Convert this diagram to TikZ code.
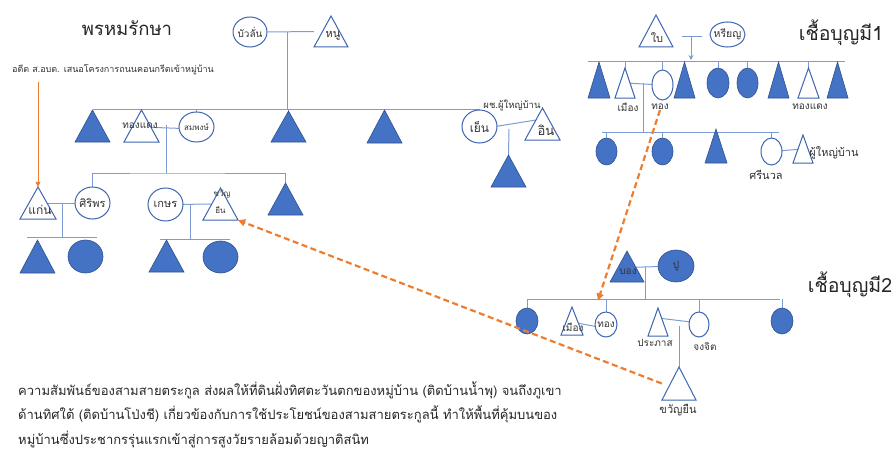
\documentclass[tikz,border=0pt]{standalone}
\usepackage{fontspec}
\newfontfamily\thai[Script=Thai]{Loma}
\usetikzlibrary{shapes.geometric,arrows.meta,backgrounds}
\definecolor{fillb}{HTML}{4472C4}
\definecolor{edgeb}{HTML}{2F528F}
\definecolor{hollb}{HTML}{3D65B0}
\definecolor{linkb}{HTML}{7C9CD6}
\definecolor{orng}{HTML}{ED7D31}
\definecolor{txt}{HTML}{333333}
\tikzset{
  ftri/.style={fill=fillb,draw=edgeb,line width=0.6},
  htri/.style={fill=white,draw=hollb,line width=1},
  fell/.style={ellipse,fill=fillb,draw=edgeb,line width=0.6,inner sep=0},
  hell/.style={ellipse,fill=white,draw=hollb,line width=1,inner sep=0},
  link/.style={draw=linkb,line width=1},
  lbl/.style={font=\thai\fontsize{#1}{#1}\selectfont,text=txt,inner sep=0},
  lbl/.default=10,
  title/.style={font=\thai\fontsize{#1}{#1}\selectfont,text=black!85,inner sep=0},
  odash/.style={draw=orng,line width=2.2,dash pattern=on 6pt off 3.5pt,-{Triangle[length=7pt,width=7pt]}},
}
% #1 style, #2 name, #3 x, #4 y, #5 w, #6 h
\newcommand\kt[6]{%
  \path[#1] ({#3-#5/2},{#4+#6/2}) -- ({#3+#5/2},{#4+#6/2}) -- ({#3},{#4-#6/2}) -- cycle;
  \node[inner sep=0,minimum width=#5,minimum height=#6] (#2) at (#3,#4) {};}
\begin{document}
\begin{tikzpicture}[x=1pt,y=-1pt]
\begin{pgfonlayer}{background}
\fill[white] (0,0) rectangle (896,452);
\end{pgfonlayer}
\useasboundingbox (0,0) rectangle (896,452);

% ---------------- left family ----------------
\node[title=18.5] (tl) at (127,28) {พรหมรักษา};
\node[lbl=9] (note) at (113,70) {อดีต ส.อบต. เสนอโครงการถนนคอนกรีตเข้าหมู่บ้าน};

\node[hell,minimum width=34,minimum height=30] (buo) at (250,32) {};
\node[lbl=10] at (250,32) {บัวลั่น};
\kt{htri}{nu}{331}{31.5}{34}{31}
\node[lbl=11] at (333,36) {หนู};
\coordinate (m1) at (287,32);

\kt{ftri}{t1}{92.5}{126}{35}{32}
\kt{htri}{thd}{141.5}{126}{35}{32}
\node[lbl=10] (thdl) at (140,126) {ทองแดง};
\node[hell,minimum width=35,minimum height=30] (smp) at (196.5,127) {};
\node[lbl=8] at (196.5,127) {สมพงษ์};
\kt{ftri}{t2}{288.5}{126.5}{35}{31}
\kt{ftri}{t3}{384.5}{126.5}{35}{33}
\node[hell,minimum width=35,minimum height=33] (yen) at (479.5,126.5) {};
\node[lbl=12] at (479.5,127) {เย็น};
\kt{htri}{in}{542.5}{124}{35}{32}
\node[lbl=13] at (546,130) {อิน};
\node[lbl=9.5] (phc) at (512,105) {ผช.ผู้ใหญ่บ้าน};
\kt{ftri}{t4}{508.5}{171}{35}{32}

\kt{htri}{kaen}{38}{203}{36}{32}
\node[lbl=12] at (40,210) {แก่น};
\node[hell,minimum width=35,minimum height=32] (sir) at (92.5,203) {};
\node[lbl=11] at (92.5,203) {ศิริพร};
\kt{ftri}{t5}{37.5}{256.5}{35}{33}
\node[fell,minimum width=35,minimum height=33] (c1) at (85.5,256.5) {};
\node[hell,minimum width=35,minimum height=33] (kes) at (165.5,204.5) {};
\node[lbl=11] at (165.5,204.5) {เกษร};
\kt{htri}{kwy}{220.5}{204}{35}{32}
\node[lbl=8] at (222,194) {ขวัญ};
\node[lbl=8] at (220.5,210) {ยืน};
\kt{ftri}{t6}{166.5}{256}{35}{32}
\node[fell,minimum width=35,minimum height=32] (c2) at (220.5,257) {};
\kt{ftri}{t7}{285.5}{199}{35}{32}

% ---------------- right top family ----------------
\node[title=19.5] (tr1) at (841,33) {เชื้อบุญมี1};
\kt{htri}{bai}{656}{31}{34}{32}
\node[lbl=11] at (657,38) {ใบ};
\node[hell,minimum width=35,minimum height=25] (ry) at (727.5,34.5) {};
\node[lbl=10.5] at (727.5,34.5) {หรียญ};
\coordinate (r1) at (682,37);
\coordinate (r2) at (702,37);
\coordinate (r3) at (691,37);
\coordinate (r4) at (691,60);

\kt{ftri}{a1}{599}{80}{22}{36}
\kt{htri}{a2}{625}{83}{20}{30}
\node[hell,minimum width=21,minimum height=30] (a3) at (662.5,85) {};
\kt{ftri}{a4}{684.5}{80}{21}{36}
\node[fell,minimum width=22,minimum height=30] (a5) at (718,83) {};
\node[fell,minimum width=21,minimum height=30] (a6) at (747.5,83) {};
\kt{ftri}{a7}{778.5}{80}{21}{36}
\kt{htri}{a8}{808.5}{83}{21}{30}
\kt{ftri}{a9}{837.5}{80}{21}{36}
\node[lbl=10] (la2) at (628,107) {เมือง};
\node[lbl=10] (la3) at (660,107) {ทอง};
\node[lbl=10] (la8) at (810,107) {ทองแดง};

\node[fell,minimum width=21,minimum height=27] (b1) at (606.5,151.5) {};
\node[fell,minimum width=21,minimum height=27] (b2) at (662.5,151.5) {};
\kt{ftri}{b3}{716}{146}{22}{34}
\node[hell,minimum width=21,minimum height=27] (b4) at (771.5,151.5) {};
\kt{htri}{b5}{803}{149}{20}{28}
\node[lbl=11] at (834,153) {ผู้ใหญ่บ้าน};
\node[lbl=11] at (766,175) {ศรีนวล};

% ---------------- right middle family ----------------
\node[title=19.5] (tr2) at (850,285) {เชื้อบุญมี2};
\kt{ftri}{bong}{627}{266.5}{34}{31}
\node[lbl=10,text=black!80] at (628,272) {บอง};
\node[fell,minimum width=36,minimum height=32] (pu) at (676,266) {};
\node[lbl=10,text=black!80] at (676,266) {ปู};

\node[fell,minimum width=22,minimum height=26] (d1) at (527,321) {};
\kt{htri}{d2}{572}{321}{22}{28}
\node[lbl=10] at (573,327) {เมือง};
\node[hell,minimum width=22,minimum height=25] (d3) at (606,324.5) {};
\node[lbl=10] at (606,325) {ทอง};
\kt{htri}{d4}{658}{322}{20}{28}
\node[lbl=10] at (655,343) {ประภาส};
\node[hell,minimum width=20,minimum height=25] (d5) at (699,324.5) {};
\node[lbl=10] at (705,347) {จงจิต};
\node[fell,minimum width=22,minimum height=26] (d6) at (782,321) {};
\kt{htri}{kwy2}{679}{383.5}{34}{33}
\node[lbl=11] (lk2) at (678,410) {ขวัญยืน};

% ---------------- bottom text ----------------
\node[anchor=base west,align=left,inner sep=0,font=\thai\fontsize{13}{24.5}\selectfont,text=black!85] (body) at (18,444)
 {ความสัมพันธ์ของสามสายตระกูล ส่งผลให้ที่ดินฝั่งทิศตะวันตกของหมู่บ้าน (ติดบ้านน้ำพุ) จนถึงภูเขา\\
  ด้านทิศใต้ (ติดบ้านโป่งชี) เกี่ยวข้องกับการใช้ประโยชน์ของสามสายตระกูลนี้ ทำให้พื้นที่คุ้มบนของ\\
  หมู่บ้านซึ่งประชากรรุ่นแรกเข้าสู่การสูงวัยรายล้อมด้วยญาติสนิท};

% ---------------- connectors ----------------
\begin{pgfonlayer}{background}
% left
\draw[link] (buo) -- (nu);
\draw[link] (m1) -- (m1 |- t1.north);
\draw[link] (t1.north) |- (t3.north -| yen) -- (yen.north);
\draw[link] (smp.north) -- (smp.north |- t1.north);
\draw[link] (t2.north) -- (t2.north |- t1.north);
\draw[link] (t3.north) -- (t3.north |- t1.north);
\draw[link] ([yshift=-1]thd.center) -- ([yshift=-2]smp.center);
\coordinate (m2) at (166,125);
\draw[link] (m2) -- (m2 |- 0,173);
\draw[link] (yen.center) ++(0,2.5) -- ([yshift=5]in.center);
\coordinate (m3) at (509,129);
\draw[link] (m3) -- (t4.north);
\draw[link] (sir.north) |- (m2 |- 0,173) -| (t7.north);
\draw[link] (kaen.center) -- (sir.center);
\coordinate (m4) at (62,203);
\draw[link] (m4) -- (62,237);
\draw[link] (27,237) -- (97,237);
\draw[link] (kes.center) -- (kwy.center);
\coordinate (m5) at (190,204);
\draw[link] (m5) -- (190,239);
\draw[link] (160,239) -- (230,239);
% right top
\draw[link] (r1) -- (r2);
\draw[link,-{Stealth[length=5pt,width=5pt]}] (r3) -- (r4);
\draw[link] (588,62) -- (845,62);
\foreach \n in {a2,a3,a5,a6,a8} \draw[link] (\n.north) -- (\n.north |- 0,62);
\draw[link] (a2.center) -- (a3.center);
\coordinate (m6) at (643,83);
\draw[link] (m6) -- (643,132);
\draw[link] (602,132) -- (779,132);
\foreach \n in {b1,b2,b4} \draw[link] (\n.north) -- (\n.north |- 0,132);
\draw[link] (b4.center) -- (b5.center);
% right middle
\draw[link] ([yshift=-1]bong.center) -- (pu.center);
\coordinate (m7) at (645,267);
\draw[link] (m7) -- (645,299);
\draw[link] (527,299) -- (780,299);
\foreach \n in {d1,d3,d5,d6} \draw[link] (\n.north) -- (\n.north |- 0,299);
\draw[link] ([yshift=-1]d2.center) -- ([yshift=-4]d3.center);
\draw[link] ([yshift=4]d4.center) -- ([yshift=1.5]d5.center);
\coordinate (m8) at (679,326);
\draw[link] (m8) -- (kwy2.north);
\end{pgfonlayer}

% orange
\draw[draw=orng,line width=0.8,-{Triangle[length=5pt,width=5pt]}] (38,82) -- (kaen.north);
\draw[odash] (la3.south) -- ([shift={(-8,-11)}]d3.north);
\draw[odash] (kwy2.west) -- (kwy.south east);
\end{tikzpicture}
\end{document}
